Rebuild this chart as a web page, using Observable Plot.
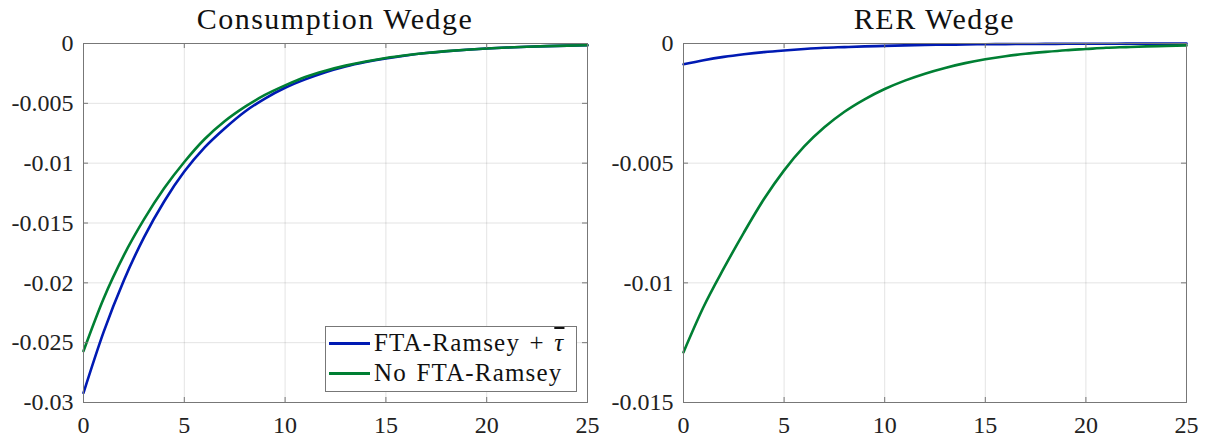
<!DOCTYPE html>
<html>
<head>
<meta charset="utf-8">
<script src="https://cdn.jsdelivr.net/npm/d3@7"></script>
<script src="https://cdn.jsdelivr.net/npm/@observablehq/plot@0.6"></script>
<style>
  body { margin: 0; background: #fff; font-family: "Liberation Serif", "Times New Roman", "DejaVu Serif", serif; }
  #wrap { position: relative; width: 1212px; height: 437px; display: flex; overflow: hidden; }
  .panel { position: relative; }
  .title { height: 36px; line-height: 38px; font-size: 30px; letter-spacing: 1.5px; text-align: center; color: #111; white-space: nowrap; }
  .legend { position: absolute; box-sizing: border-box; background: #fff; border: 1px solid #777; padding-top: 1px; }
  .legend .row { display: flex; align-items: center; height: 30px; font-size: 25px; color: #111; white-space: nowrap; letter-spacing: 1.2px; word-spacing: 2px; }
  .legend .sw { width: 41px; height: 3px; margin-left: 3px; margin-right: 4px; }
  svg { display: block; }
</style>
</head>
<body>
<div id="wrap"></div>
<script>
// ---- data ----
const periods = [0,1,2,3,4,5,6,7,8,9,10,11,12,13,14,15,16,17,18,19,20,21,22,23,24,25];

const seriesNames = ["FTA-Ramsey + τ̄", "No FTA-Ramsey"];
const seriesColors = ["#001ab3", "#007f33"];

// Consumption wedge
const consFTA = [-0.0292,-0.0241,-0.0198,-0.0162,-0.0132,-0.0107,-0.0087,-0.0071,-0.0057,-0.0046,-0.0037,
                 -0.0030,-0.0024,-0.00192,-0.00155,-0.00125,-0.001,-0.0008,-0.00065,-0.00052,-0.00042,
                 -0.00034,-0.00027,-0.00022,-0.00018,-0.00015];
const consNoFTA = [-0.0257,-0.0213,-0.0177,-0.0147,-0.0121,-0.0099,-0.0080,-0.0065,-0.0053,-0.0043,-0.0035,
                   -0.0028,-0.00228,-0.00185,-0.0015,-0.00121,-0.00098,-0.00079,-0.00064,-0.00052,-0.00042,
                   -0.00034,-0.00027,-0.00022,-0.00018,-0.00015];

// RER wedge
const rerFTA = [-0.00087,-0.0007,-0.00056,-0.00045,-0.00036,-0.00029,-0.00023,-0.00018,-0.00015,-0.00012,-0.0001,
                -0.00008,-0.00006,-0.00005,-0.00004,-0.00003,-0.000025,-0.00002,-0.000016,-0.000013,-0.00001,
                -0.000008,-0.000007,-0.000005,-0.000004,-0.000003];
const rerNoFTA = [-0.0129,-0.0110,-0.0094,-0.0079,-0.0065,-0.0053,-0.0043,-0.0035,-0.00285,-0.00233,-0.0019,
                  -0.00155,-0.00126,-0.00102,-0.00082,-0.00066,-0.00053,-0.00043,-0.00035,-0.00028,-0.00023,
                  -0.00018,-0.00015,-0.00012,-0.0001,-0.00008];

// ticks
const xTicks = [0,5,10,15,20,25];
const xTickLabels = ["0","5","10","15","20","25"];
const consYTicks = [0,-0.005,-0.01,-0.015,-0.02,-0.025,-0.03];
const consYTickLabels = ["0","-0.005","-0.01","-0.015","-0.02","-0.025","-0.03"];
const rerYTicks = [0,-0.005,-0.01,-0.015];
const rerYTickLabels = ["0","-0.005","-0.01","-0.015"];

const titles = ["Consumption Wedge", "RER Wedge"];

// ---- drawing ----
const FONT = "'Liberation Serif', 'Times New Roman', 'DejaVu Serif', serif";
function makePanel({width, title, yDomain, yTicks, yLabels, a, b, legend}) {
  const height = 401, ml = 83, mr = width === 600 ? 13 : 26, mt = 7, mb = 35;
  const pw = width - ml - mr, ph = height - mt - mb;
  const data = [
    ...periods.map((t, i) => ({t, v: a[i], s: seriesNames[0]})),
    ...periods.map((t, i) => ({t, v: b[i], s: seriesNames[1]}))
  ];
  const axisColor = "#777";
  const chart = Plot.plot({
    width, height, marginLeft: ml, marginRight: mr, marginTop: mt, marginBottom: mb,
    style: {fontFamily: FONT, fontSize: "23px", color: "#222", background: "transparent", overflow: "visible"},
    x: {domain: [0, 25], ticks: xTicks, label: null},
    y: {domain: yDomain, ticks: yTicks, label: null},
    color: {domain: seriesNames, range: seriesColors},
    marks: [
      Plot.gridX(xTicks, {stroke: "#000", strokeOpacity: 0.11}),
      Plot.gridY(yTicks, {stroke: "#000", strokeOpacity: 0.11}),
      Plot.line(data, {x: "t", y: "v", z: "s", stroke: "s", strokeWidth: 2.6, curve: "monotone-x"}),
      Plot.tickX(xTicks, {x: d => d, insetTop: ph - 5, stroke: axisColor}),
      Plot.tickX(xTicks, {x: d => d, insetBottom: ph - 5, stroke: axisColor}),
      Plot.tickY(yTicks, {y: d => d, insetRight: pw - 5, stroke: axisColor}),
      Plot.tickY(yTicks, {y: d => d, insetLeft: pw - 5, stroke: axisColor}),
      Plot.frame({stroke: axisColor}),
      Plot.axisX(xTicks, {tickSize: 0, tickPadding: 13, label: null, fontSize: 24, fontFamily: FONT,
        tickFormat: d => xTickLabels[xTicks.indexOf(d)]}),
      Plot.axisY(yTicks, {tickSize: 0, tickPadding: 10, label: null, fontSize: 24, fontFamily: FONT,
        tickFormat: d => yLabels[yTicks.indexOf(d)]})
    ]
  });

  const panel = document.createElement("div");
  panel.className = "panel";
  panel.style.width = width + "px";
  const t = document.createElement("div");
  t.className = "title";
  t.style.paddingLeft = ml + "px";
  t.style.paddingRight = mr + "px";
  t.textContent = title;
  panel.appendChild(t);
  panel.appendChild(chart);

  if (legend) {
    const lg = document.createElement("div");
    lg.className = "legend";
    lg.style.left = "325px";
    lg.style.top = "326px";
    lg.style.width = "252px";
    lg.style.height = "66px";
    seriesNames.forEach((name, i) => {
      const row = document.createElement("div");
      row.className = "row";
      const sw = document.createElement("div");
      sw.className = "sw";
      sw.style.background = seriesColors[i];
      row.appendChild(sw);
      const label = document.createElement("span");
      if (name.endsWith("τ̄")) {
        label.innerHTML = name.slice(0, -2) + '<i style="text-decoration: overline;">τ</i>';
      } else {
        label.textContent = name;
      }
      row.appendChild(label);
      lg.appendChild(row);
    });
    panel.appendChild(lg);
  }
  return panel;
}

const wrap = document.getElementById("wrap");
wrap.appendChild(makePanel({width: 600, title: titles[0], yDomain: [-0.03, 0], yTicks: consYTicks, yLabels: consYTickLabels, a: consFTA, b: consNoFTA, legend: true}));
wrap.appendChild(makePanel({width: 612, title: titles[1], yDomain: [-0.015, 0], yTicks: rerYTicks, yLabels: rerYTickLabels, a: rerFTA, b: rerNoFTA, legend: false}));
</script>
</body>
</html>
